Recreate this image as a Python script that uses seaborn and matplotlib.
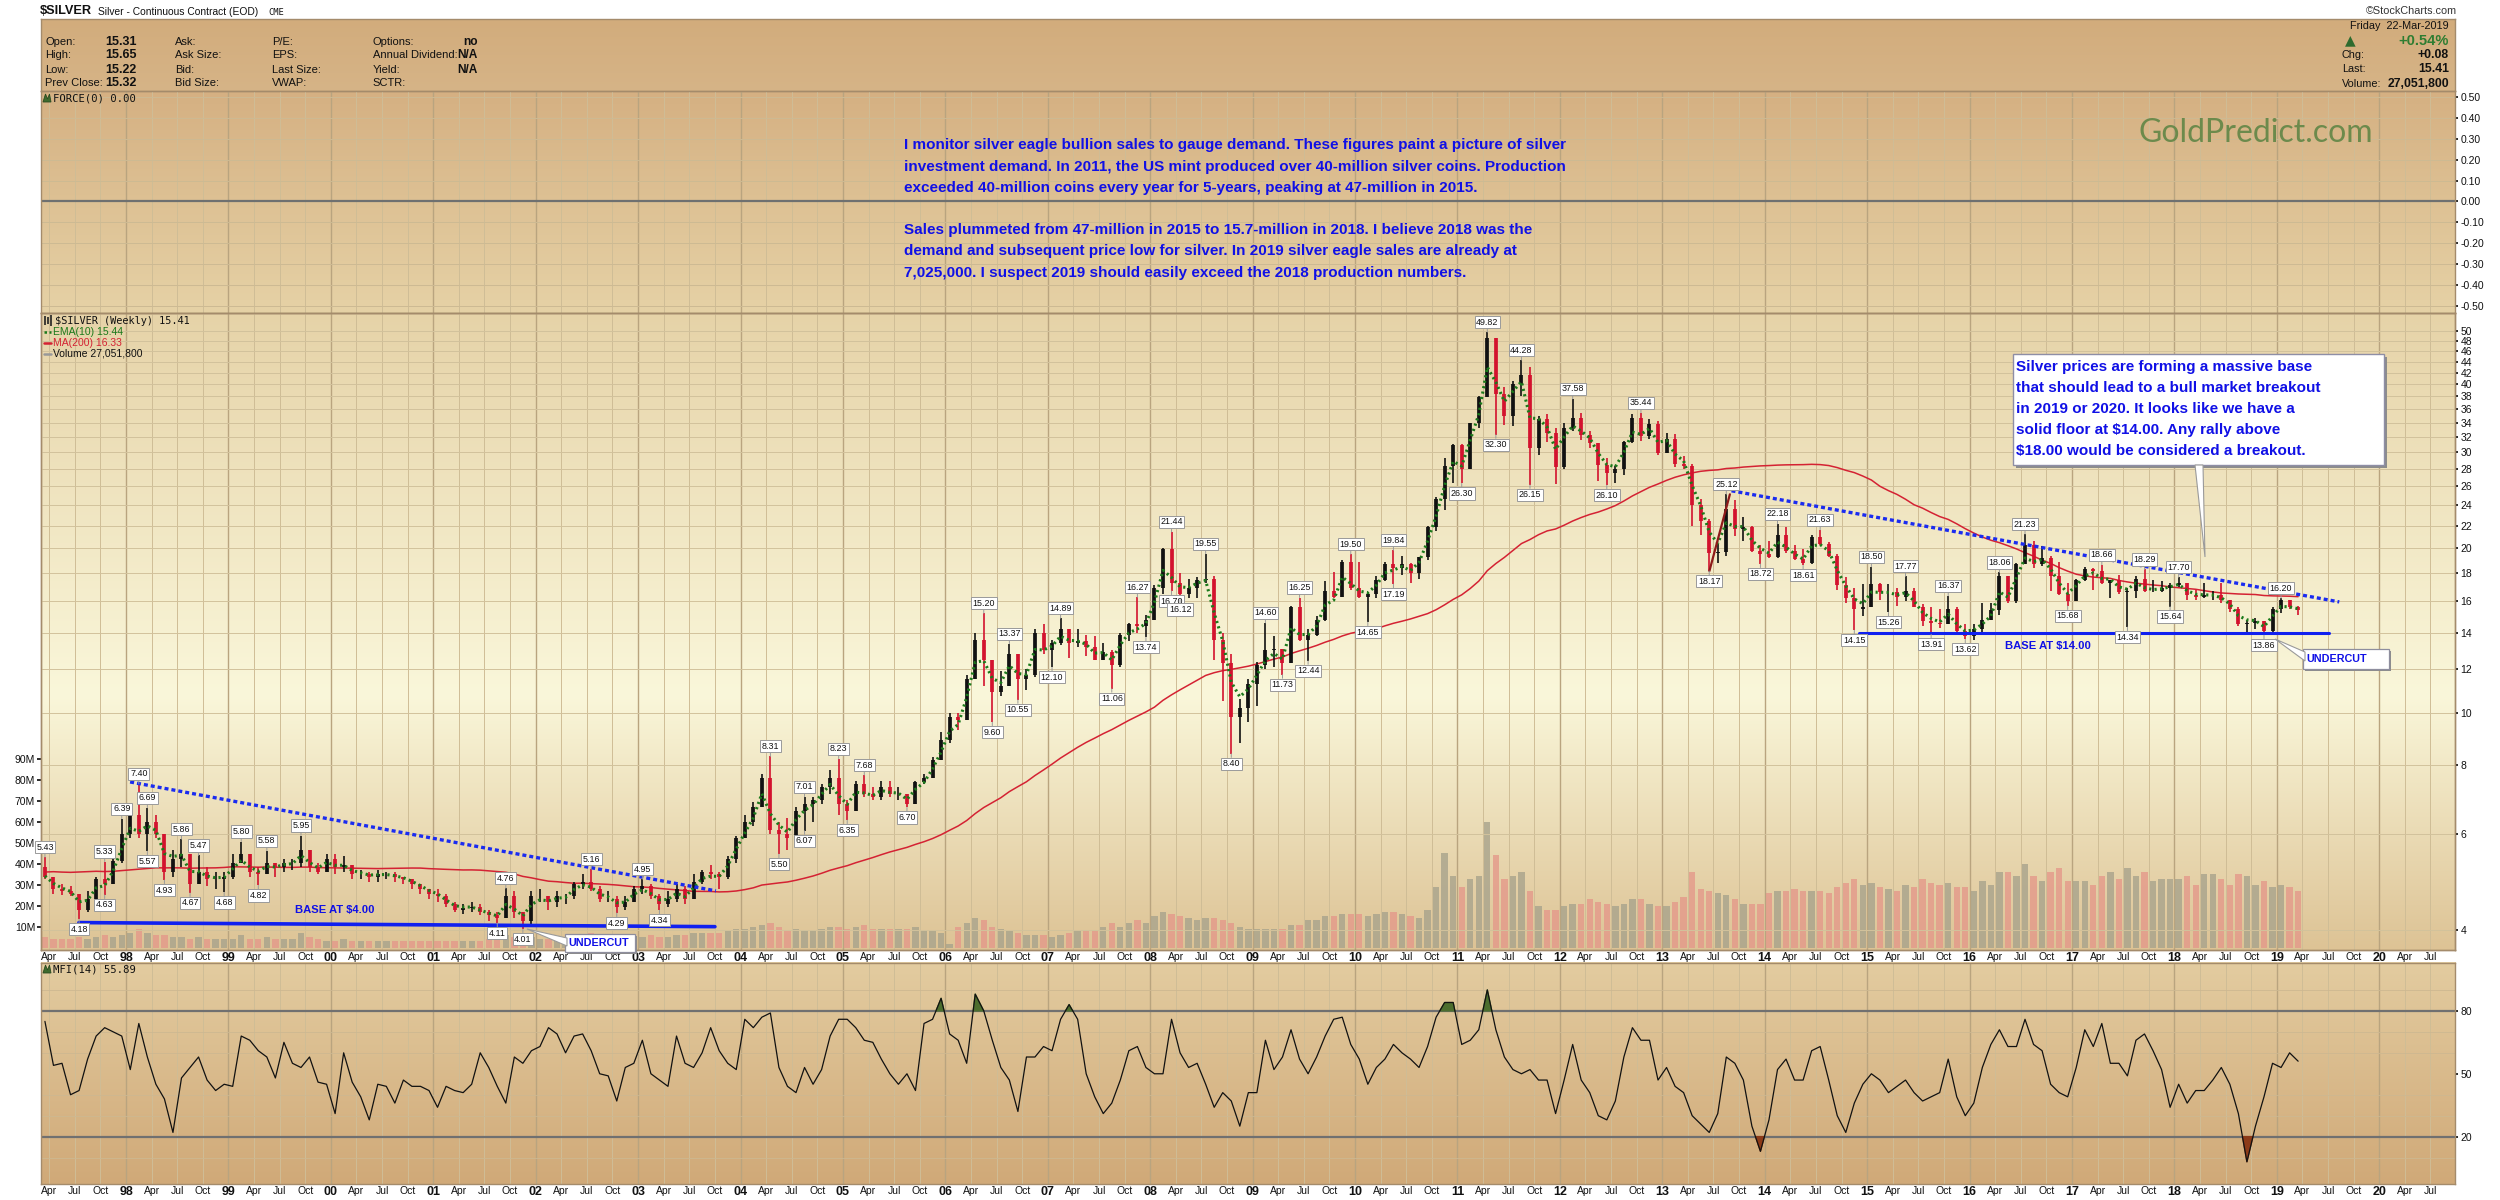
import numpy as np
import pandas as pd
import matplotlib
matplotlib.use('Agg')
import matplotlib.pyplot as plt
import matplotlib.colors as mcolors
from matplotlib import font_manager
from matplotlib.patches import Rectangle, Polygon
from matplotlib.ticker import NullLocator
import seaborn as sns

# ---- data, one value per month (Mar-1997 .. Mar-2019)
first_month = '1997-03'

close = [
    5.00, 4.75, 4.70, 4.65, 4.35, 4.55, 4.95, 4.85, 5.35, 6.00,
    6.50, 6.00, 6.30, 6.00, 5.10, 5.40, 5.50, 4.85, 5.10, 4.95, 4.95, 5.00,
    5.30, 5.50, 5.10, 5.05, 5.30, 5.20, 5.30, 5.30, 5.60, 5.20, 5.10, 5.40,
    5.20, 5.25, 5.05, 5.05, 5.00, 5.05, 5.05, 5.00, 4.95, 4.85, 4.75, 4.65,
    4.60, 4.45, 4.35, 4.38, 4.40, 4.30, 4.25, 4.20, 4.60, 4.30, 4.15, 4.60,
    4.60, 4.50, 4.60, 4.60, 4.85, 4.90, 4.75, 4.55, 4.55, 4.40, 4.50, 4.75,
    4.80, 4.60, 4.45, 4.55, 4.75, 4.55, 4.90, 5.10, 5.05, 5.00, 5.40, 5.90,
    6.30, 6.70, 7.60, 6.10, 6.00, 5.90, 6.60, 6.80, 6.90, 7.30, 7.60, 6.80,
    6.60, 7.40, 7.10, 7.00, 7.30, 7.10, 7.10, 6.80, 7.45, 7.60, 8.20, 8.90,
    9.80, 9.70, 11.50, 13.60, 12.50, 10.90, 11.20, 12.80, 11.50, 11.70, 14.00, 13.00,
    13.40, 14.20, 13.40, 13.50, 13.20, 12.50, 12.90, 12.20, 13.90, 14.50, 14.40, 14.80,
    16.90, 19.90, 17.30, 16.50, 16.90, 17.50, 17.60, 13.60, 12.30, 9.80, 10.20, 11.30,
    12.20, 13.00, 13.10, 12.30, 15.60, 13.60, 13.90, 14.80, 16.70, 16.30, 18.90, 16.90,
    16.30, 16.50, 17.50, 18.70, 18.40, 18.70, 18.00, 19.30, 21.90, 24.60, 28.30, 30.90,
    27.90, 34.00, 37.80, 48.60, 38.40, 34.90, 40.00, 41.60, 30.50, 34.50, 32.50, 28.20,
    33.20, 34.60, 32.30, 31.20, 28.40, 27.50, 28.00, 31.30, 34.60, 32.10, 33.80, 29.90,
    31.70, 28.50, 28.30, 24.00, 22.40, 19.60, 19.70, 23.60, 21.70, 21.90, 19.80, 19.50,
    19.30, 21.20, 19.80, 19.10, 18.80, 21.00, 20.40, 19.40, 17.10, 16.20, 15.50, 15.60,
    17.20, 16.60, 16.60, 16.30, 16.70, 15.60, 14.70, 14.60, 14.50, 15.50, 14.10, 13.80,
    14.20, 14.80, 15.40, 17.80, 16.00, 18.70, 20.30, 18.70, 19.20, 17.80, 16.50, 16.00,
    17.50, 18.30, 18.20, 17.30, 17.50, 16.60, 16.70, 17.60, 16.70, 16.70, 16.90, 17.10,
    17.30, 16.40, 16.30, 16.40, 16.40, 16.10, 15.50, 14.50, 14.60, 14.70, 14.10, 15.50,
    16.10, 15.60, 15.41,
]

high = [
    5.43, 5.00, 4.85, 4.80, 4.60, 4.70, 5.00, 5.33, 5.40, 6.39,
    6.70, 7.40, 6.69, 6.50, 6.00, 5.60, 5.86, 5.50, 5.47, 5.20, 5.10, 5.10,
    5.50, 5.80, 5.50, 5.20, 5.58, 5.30, 5.40, 5.40, 5.95, 5.60, 5.30, 5.50,
    5.50, 5.45, 5.25, 5.15, 5.10, 5.15, 5.10, 5.10, 5.00, 4.95, 4.85, 4.75,
    4.75, 4.65, 4.50, 4.45, 4.50, 4.45, 4.35, 4.30, 4.76, 4.70, 4.30, 4.70,
    4.75, 4.60, 4.70, 4.65, 4.90, 5.05, 5.16, 4.80, 4.70, 4.60, 4.60, 4.80,
    4.95, 4.85, 4.65, 4.70, 4.85, 4.80, 5.05, 5.15, 5.25, 5.10, 5.45, 5.95,
    6.50, 6.85, 7.70, 8.31, 6.30, 6.40, 6.70, 7.01, 7.00, 7.40, 7.85, 8.23,
    6.90, 7.50, 7.68, 7.30, 7.50, 7.50, 7.30, 7.10, 7.50, 7.70, 8.30, 9.20,
    10.00, 10.00, 11.70, 14.00, 15.20, 12.50, 11.90, 13.37, 12.50, 12.00, 14.20, 14.50,
    13.60, 14.89, 14.00, 14.20, 13.90, 13.80, 13.40, 13.00, 14.00, 14.60, 16.27, 15.10,
    17.10, 20.00, 21.44, 18.00, 17.60, 17.70, 19.55, 17.80, 14.00, 12.80, 10.60, 11.50,
    12.40, 14.60, 13.80, 13.00, 15.70, 16.25, 14.20, 15.00, 17.40, 18.10, 19.00, 19.50,
    18.90, 16.60, 17.80, 18.90, 19.84, 19.40, 18.80, 19.30, 22.00, 24.80, 29.30, 31.00,
    31.10, 34.00, 38.00, 49.82, 48.60, 39.50, 40.50, 44.28, 43.00, 35.00, 35.20, 33.20,
    33.90, 37.58, 35.40, 32.80, 31.20, 29.30, 28.30, 31.40, 35.20, 35.44, 34.50, 34.30,
    32.50, 32.40, 29.50, 28.50, 24.60, 22.60, 20.40, 25.12, 24.50, 22.80, 22.00, 20.30,
    20.60, 22.18, 21.90, 20.30, 19.90, 21.20, 21.63, 20.50, 19.50, 17.70, 16.90, 17.20,
    18.50, 17.30, 17.20, 16.90, 17.77, 16.90, 15.80, 15.60, 15.50, 16.37, 15.60, 14.50,
    14.50, 15.90, 15.90, 18.06, 17.60, 18.80, 21.23, 20.60, 20.20, 19.40, 18.90, 17.30,
    17.60, 18.50, 18.40, 18.66, 17.40, 17.90, 16.90, 17.80, 18.29, 17.50, 17.40, 17.30,
    17.70, 17.30, 16.80, 17.30, 16.70, 17.30, 16.00, 15.60, 14.80, 14.90, 14.70, 15.60,
    16.20, 16.10, 15.65,
]

low = [
    4.95, 4.65, 4.62, 4.60, 4.18, 4.30, 4.50, 4.63, 4.85, 5.30,
    5.90, 5.90, 5.57, 5.90, 4.93, 5.00, 5.20, 4.67, 4.90, 4.80, 4.75, 4.68,
    4.95, 5.30, 5.00, 4.82, 5.10, 5.00, 5.10, 5.15, 5.20, 5.10, 5.05, 5.10,
    5.05, 5.10, 4.95, 4.95, 4.90, 4.90, 4.95, 4.90, 4.85, 4.75, 4.65, 4.55,
    4.50, 4.40, 4.30, 4.28, 4.30, 4.25, 4.15, 4.11, 4.20, 4.20, 4.01, 4.10,
    4.50, 4.35, 4.40, 4.45, 4.55, 4.75, 4.70, 4.50, 4.50, 4.29, 4.35, 4.50,
    4.65, 4.55, 4.34, 4.40, 4.50, 4.45, 4.55, 4.85, 4.95, 4.75, 4.95, 5.30,
    5.90, 6.20, 6.70, 6.00, 5.50, 5.60, 5.90, 6.07, 6.30, 6.80, 7.10, 6.50,
    6.35, 6.60, 7.00, 6.90, 6.90, 7.00, 6.90, 6.70, 6.80, 7.40, 7.60, 8.20,
    8.80, 9.30, 9.70, 11.50, 11.20, 9.60, 10.70, 11.60, 10.55, 11.00, 11.60, 12.80,
    12.10, 13.30, 12.60, 13.20, 12.70, 12.50, 12.50, 11.06, 12.10, 13.50, 14.00, 13.74,
    14.80, 16.50, 16.70, 16.12, 16.20, 16.20, 17.30, 12.50, 10.50, 8.40, 8.80, 9.60,
    10.30, 12.00, 12.10, 11.73, 12.30, 13.50, 12.44, 13.80, 14.70, 16.20, 16.30, 16.80,
    16.20, 14.65, 16.20, 17.40, 17.19, 17.90, 17.30, 17.60, 19.00, 21.50, 23.50, 26.40,
    26.30, 27.90, 33.20, 37.80, 32.30, 33.70, 33.50, 38.00, 26.15, 29.70, 31.30, 26.20,
    28.00, 32.80, 31.60, 30.50, 26.60, 26.10, 26.30, 27.20, 31.20, 31.50, 31.70, 29.60,
    29.90, 28.20, 28.00, 22.00, 21.20, 18.17, 18.80, 19.40, 21.10, 20.60, 19.70, 18.72,
    19.20, 19.20, 19.60, 19.00, 18.61, 18.70, 20.30, 19.30, 16.80, 15.90, 14.15, 15.00,
    15.60, 16.10, 15.26, 15.70, 16.00, 15.60, 14.40, 13.91, 14.30, 14.50, 13.90, 13.62,
    13.60, 13.90, 14.90, 15.10, 15.90, 15.90, 18.70, 18.40, 18.60, 16.70, 16.40, 15.68,
    16.10, 17.40, 16.80, 17.20, 16.20, 16.50, 14.34, 16.20, 16.60, 16.60, 16.60, 15.64,
    17.00, 16.10, 16.10, 16.20, 16.10, 15.90, 15.30, 14.40, 13.90, 14.20, 13.86, 14.00,
    15.20, 15.50, 15.10,
]

# weekly volume, typical level per month (millions)
volume = [
    5, 4, 4, 4, 5, 4, 5, 6, 5, 6,
    7, 9, 7, 6, 6, 5, 5, 4, 5, 4, 4, 4,
    4, 6, 4, 4, 5, 4, 4, 4, 7, 5, 4, 3,
    3, 4, 3, 3, 3, 3, 3, 3, 3, 3, 3, 3,
    3, 3, 3, 3, 3, 3, 4, 4, 6, 5, 5, 5,
    4, 4, 4, 5, 5, 6, 7, 5, 4, 4, 4, 5,
    5, 6, 5, 5, 6, 6, 7, 7, 7, 7, 8, 9,
    9, 10, 11, 12, 10, 8, 9, 8, 8, 9, 10, 10,
    9, 10, 11, 9, 9, 9, 9, 9, 10, 8, 8, 7,
    2, 10, 12, 14, 13, 10, 9, 8, 7, 6, 6, 6,
    5, 6, 7, 8, 8, 8, 10, 12, 10, 12, 13, 12,
    15, 17, 16, 15, 14, 13, 14, 14, 13, 12, 10, 9,
    9, 9, 9, 9, 11, 11, 13, 13, 15, 15, 16, 16,
    16, 15, 16, 17, 17, 16, 15, 14, 18, 29, 45, 34,
    29, 33, 34, 60, 44, 33, 34, 36, 27, 20, 18, 18,
    20, 21, 21, 23, 22, 21, 20, 21, 23, 23, 21, 20,
    20, 22, 24, 36, 28, 27, 26, 25, 23, 21, 21, 21,
    26, 27, 27, 28, 27, 27, 27, 26, 29, 31, 33, 30,
    31, 29, 28, 27, 30, 29, 33, 31, 30, 31, 29, 29,
    27, 32, 30, 36, 36, 34, 40, 34, 32, 36, 38, 32,
    32, 32, 30, 34, 36, 33, 38, 34, 36, 32, 33, 33,
    33, 34, 30, 35, 35, 33, 30, 35, 34, 30, 32, 29,
    30, 29, 27,
]

mfi = [
    75, 54, 55, 40, 42, 57, 68, 72, 70, 68,
    52, 74, 58, 45, 38, 22, 48, 53, 58, 47, 42, 45,
    44, 68, 66, 61, 58, 48, 65, 55, 53, 58, 46, 45,
    31, 60, 46, 39, 28, 45, 44, 36, 47, 44, 44, 42,
    34, 44, 42, 41, 45, 60, 53, 44, 36, 58, 55, 61,
    63, 72, 69, 60, 68, 69, 61, 50, 49, 37, 53, 55,
    66, 50, 47, 44, 68, 55, 53, 60, 72, 61, 55, 52,
    76, 72, 77, 79, 53, 44, 41, 53, 45, 52, 68, 76,
    76, 72, 66, 65, 57, 50, 45, 50, 42, 74, 76, 86,
    69, 66, 55, 88, 80, 66, 53, 47, 32, 58, 58, 63,
    61, 76, 83, 76, 50, 39, 31, 36, 47, 61, 63, 53,
    50, 50, 76, 60, 53, 55, 45, 34, 41, 37, 25, 41,
    41, 66, 52, 58, 71, 57, 50, 58, 68, 76, 77, 64,
    57, 45, 53, 57, 64, 60, 57, 53, 63, 77, 84, 84,
    64, 66, 71, 90, 71, 58, 52, 50, 52, 47, 47, 31,
    47, 64, 47, 41, 30, 28, 37, 58, 72, 66, 66, 47,
    53, 44, 41, 30, 26, 22, 31, 58, 55, 47, 25, 13,
    28, 52, 57, 47, 47, 61, 63, 47, 30, 22, 36, 45,
    50, 47, 41, 44, 47, 41, 37, 39, 41, 57, 39, 30,
    36, 53, 64, 71, 63, 63, 76, 64, 61, 45, 41, 39,
    53, 71, 63, 74, 55, 55, 49, 66, 69, 61, 52, 34,
    45, 36, 42, 42, 47, 53, 45, 31, 8, 25, 39, 55,
    53, 60, 56,
]

# closes before the chart window (May-1993 .. Feb-1997), only feed the 200-week MA
pre_close = [
    4.5, 4.4, 5.1, 4.9, 4.0, 4.3, 4.5, 5.1,
    5.1, 5.3, 5.7, 5.4, 5.5, 5.4, 5.2, 5.3, 5.6, 5.2, 4.9, 4.9,
    4.8, 4.6, 4.6, 5.6, 5.3, 5.2, 5.1, 5.4, 5.5, 5.3, 5.3, 5.2,
    5.6, 5.5, 5.4, 5.4, 5.3, 5.1, 5.1, 5.2, 4.9, 4.8, 4.8, 4.8,
    4.8, 5.2,
]

# swing high / low tags on the chart
tag_month = [
    '1997-03', '1997-07', '1997-10', '1997-10', '1997-12',
    '1998-02', '1998-03', '1998-03', '1998-05', '1998-07', '1998-08', '1998-09', '1998-12',
    '1999-02', '1999-04', '1999-05', '1999-09',
    '2001-08', '2001-09', '2001-11', '2002-07', '2002-10', '2003-01', '2003-03',
    '2004-04', '2004-05', '2004-08', '2004-08', '2004-12',
    '2005-01', '2005-03', '2005-08',
    '2006-05', '2006-06', '2006-08', '2006-09',
    '2007-01', '2007-02', '2007-08', '2007-11', '2007-12',
    '2008-03', '2008-03', '2008-04', '2008-07', '2008-10',
    '2009-02', '2009-04', '2009-06', '2009-07', '2009-12',
    '2010-02', '2010-05', '2010-05',
    '2011-01', '2011-04', '2011-05', '2011-08', '2011-09',
    '2012-02', '2012-06', '2012-10',
    '2013-06', '2013-08', '2013-12',
    '2014-02', '2014-05', '2014-07', '2014-11',
    '2015-01', '2015-03', '2015-05', '2015-08', '2015-10', '2015-12',
    '2016-04', '2016-07', '2016-12',
    '2017-04', '2017-07', '2017-09', '2017-12',
    '2018-01', '2018-11', '2019-01',
]
tag_value = [
    5.43, 4.18, 5.33, 4.63, 6.39,
    7.40, 6.69, 5.57, 4.93, 5.86, 4.67, 5.47, 4.68,
    5.80, 4.82, 5.58, 5.95,
    4.11, 4.76, 4.01, 5.16, 4.29, 4.95, 4.34,
    8.31, 5.50, 7.01, 6.07, 8.23,
    6.35, 7.68, 6.70,
    15.20, 9.60, 13.37, 10.55,
    12.10, 14.89, 11.06, 16.27, 13.74,
    21.44, 16.70, 16.12, 19.55, 8.40,
    14.60, 11.73, 16.25, 12.44, 19.50,
    14.65, 19.84, 17.19,
    26.30, 49.82, 32.30, 44.28, 26.15,
    37.58, 26.10, 35.44,
    18.17, 25.12, 18.72,
    22.18, 18.61, 21.63, 14.15,
    18.50, 15.26, 17.77, 13.91, 16.37, 13.62,
    18.06, 21.23, 15.68,
    18.66, 14.34, 18.29, 15.64,
    17.70, 13.86, 16.20,
]
tag_side = [
    'H', 'L', 'H', 'L', 'H',
    'H', 'H', 'L', 'L', 'H', 'L', 'H', 'L',
    'H', 'L', 'H', 'H',
    'L', 'H', 'L', 'H', 'L', 'H', 'L',
    'H', 'L', 'H', 'L', 'H',
    'L', 'H', 'L',
    'H', 'L', 'H', 'L',
    'L', 'H', 'L', 'H', 'L',
    'H', 'L', 'L', 'H', 'L',
    'H', 'L', 'H', 'L', 'H',
    'L', 'H', 'L',
    'L', 'H', 'L', 'H', 'L',
    'H', 'L', 'H',
    'L', 'H', 'L',
    'H', 'L', 'H', 'L',
    'H', 'L', 'H', 'L', 'H', 'L',
    'H', 'H', 'L',
    'H', 'L', 'H', 'L',
    'H', 'L', 'H',
]

price_ticks = [4, 6, 8, 10, 12, 14, 16, 18, 20, 22, 24, 26, 28, 30, 32, 34, 36, 38, 40, 42, 44, 46, 48, 50]
vol_ticks = [10, 20, 30, 40, 50, 60, 70, 80, 90]
force_ticks = [-0.5, -0.4, -0.3, -0.2, -0.1, 0.0, 0.1, 0.2, 0.3, 0.4, 0.5]
mfi_ticks = [20, 50, 80]

comment_1 = [
    'I monitor silver eagle bullion sales to gauge demand. These figures paint a picture of silver',
    'investment demand. In 2011, the US mint produced over 40-million silver coins. Production',
    'exceeded 40-million coins every year for 5-years, peaking at 47-million in 2015.',
    'Sales plummeted from 47-million in 2015 to 15.7-million in 2018. I believe 2018 was the',
    'demand and subsequent price low for silver. In 2019 silver eagle sales are already at',
    '7,025,000. I suspect 2019 should easily exceed the 2018 production numbers.',
]
comment_2 = [
    'Silver prices are forming a massive base',
    'that should lead to a bull market breakout',
    'in 2019 or 2020. It looks like we have a',
    'solid floor at $14.00. Any rally above',
    '$18.00 would be considered a breakout.',
]

# ---- derived series
months = pd.period_range(first_month, periods=len(close), freq='M')
t = np.asarray(months.year + (months.month - 0.5) / 12.0)
close_a = np.array(close)
open_a = np.array([pre_close[-1]] + close[:-1])
full = pd.Series(pre_close + close)
ema10 = full.ewm(alpha=0.58, adjust=False).mean().to_numpy()[len(pre_close):]
ma200 = full.rolling(46).mean().to_numpy()[len(pre_close):]
up = close_a >= open_a
candle_col = np.where(up, '#111111', '#D3122E')
vol_col = np.where(up, '#A8A38C', '#E4998A')

tag_p = pd.PeriodIndex(tag_month, freq='M')
tag_t = np.asarray(tag_p.year + (tag_p.month - 0.5) / 12.0)

# ---- fonts
sns.set_theme(style='white')
plt.rcParams['font.family'] = ['Liberation Sans', 'DejaVu Sans']
installed = {f.name for f in font_manager.fontManager.ttflist}
if 'Liberation Sans Narrow' in installed:
    NARROW = ['Liberation Sans Narrow', 'Liberation Sans']
    NS = 1.0
else:
    NARROW = ['Liberation Sans', 'DejaVu Sans']
    NS = 0.84
MONO = ['DejaVu Sans Mono']

W, H = 2500, 1200
X0, X1 = 40.7, 2455.0
XMIN, XMAX = 1997.167, 2020.74
BLUE = '#1010E6'
EDGE = '#A48B6B'


def rect(y_top, y_bot):
    return [X0 / W, 1 - y_bot / H, (X1 - X0) / W, (y_bot - y_top) / H]


fig = plt.figure(figsize=(25, 12), dpi=100, facecolor='white')

ax_bg = fig.add_axes([0, 0, 1, 1], zorder=-10)


def gradient(y_top, y_bot, stops):
    pos = [s[0] for s in stops]
    cols = np.array([mcolors.to_rgb(s[1]) for s in stops])
    yy = np.linspace(0, 1, 256)
    img = np.stack([np.interp(yy, pos, cols[:, k]) for k in range(3)], axis=-1)[:, None, :]
    ax_bg.imshow(img, extent=[X0, X1, y_bot, y_top], aspect='auto', interpolation='bilinear')


gradient(19, 91, [(0, '#D2AC7C'), (1, '#D6B487')])
gradient(91, 313, [(0, '#D5B082'), (1, '#E6D2A6')])
gradient(313, 950, [(0, '#E6D3A8'), (0.6, '#FAF7DA'), (1, '#DDC395')])
gradient(962.7, 1184, [(0, '#E3CCA0'), (1, '#D0A978')])
ax_bg.set_xlim(0, W)
ax_bg.set_ylim(H, 0)
ax_bg.axis('off')

ax_h = fig.add_axes(rect(19, 91))
ax_f = fig.add_axes(rect(91, 313))
ax_p = fig.add_axes(rect(313, 950))
ax_v = ax_p.twinx()
ax_m = fig.add_axes(rect(962.7, 1184))

for ax in [ax_h, ax_f, ax_p, ax_v, ax_m]:
    ax.patch.set_visible(False)
    for sp in ax.spines.values():
        sp.set_color(EDGE)
        sp.set_linewidth(1.0)
ax_p.set_zorder(3)
ax_v.set_zorder(2)

ax_h.set_xticks([])
ax_h.set_yticks([])

quarters = np.arange(1997.25, 2020.74, 0.25)
tick_lab = []
for q in quarters:
    yr = int(np.floor(q + 1e-6))
    k = int(round((q - yr) * 4))
    tick_lab.append(['%02d' % (yr % 100), 'Apr', 'Jul', 'Oct'][k])


def vgrid(ax):
    for q in quarters:
        is_year = abs(q - round(q)) < 1e-6
        ax.axvline(q, color='#B9A47F' if is_year else '#CFBD96',
                   lw=1.0 if is_year else 0.7, zorder=0)


def xlabels(ax):
    ax.set_xticks(quarters)
    ax.set_xticklabels(tick_lab)
    ax.tick_params(axis='x', length=0, pad=1.5, labelsize=7.5, colors='#111111')
    for lab in ax.get_xticklabels():
        if lab.get_text()[0].isdigit():
            lab.set_fontweight('bold')
            lab.set_fontsize(9)


# ---- FORCE panel
ax_f.set_xlim(XMIN, XMAX)
ax_f.set_ylim(-0.535, 0.53)
vgrid(ax_f)
for v in force_ticks:
    ax_f.axhline(v, color='#CDBA93', lw=0.7, zorder=0)
ax_f.axhline(0, color='#6E7070', lw=1.6, zorder=1)
ax_f.set_xticks([])
ax_f.yaxis.tick_right()
ax_f.set_yticks(force_ticks)
ax_f.set_yticklabels(['%.2f' % v for v in force_ticks])
ax_f.tick_params(axis='y', length=2, pad=2, labelsize=7.5, colors='#111111')

# ---- price panel
ax_p.set_yscale('log')
ax_p.set_xlim(XMIN, XMAX)
ax_p.set_ylim(3.67, 54.0)
ax_v.set_ylim(-1.1, 302.8)
vgrid(ax_v)
for v in price_ticks:
    ax_p.axhline(v, color='#D2C29C', lw=0.7, zorder=0)

ax_v.bar(t, volume, width=0.062, color=vol_col, alpha=0.8, zorder=2, linewidth=0)

ax_p.vlines(t, low, high, colors=candle_col, lw=1.2, zorder=4)
ax_p.vlines(t, open_a, close_a, colors=candle_col, lw=2.7, zorder=4)
sns.lineplot(x=t, y=ma200, ax=ax_p, color='#D42233', lw=1.1, estimator=None, sort=False, zorder=3)
sns.lineplot(x=t, y=ema10, ax=ax_p, color='#1B7A1B', lw=2.2, linestyle=(0, (0.7, 1.1)),
             estimator=None, sort=False, zorder=5)

ax_p.yaxis.tick_right()
ax_p.set_yticks(price_ticks)
ax_p.set_yticklabels([str(v) for v in price_ticks])
ax_p.yaxis.set_minor_locator(NullLocator())
ax_p.tick_params(axis='y', length=2, pad=2, labelsize=7.5, colors='#111111')
ax_p.set_ylabel('')
xlabels(ax_p)

ax_v.yaxis.tick_left()
ax_v.set_yticks(vol_ticks)
ax_v.set_yticklabels(['%dM' % v for v in vol_ticks])
ax_v.tick_params(axis='y', length=3, pad=1, labelsize=7.5, colors='#111111')

# trend lines
ax_p.plot([1998.04, 2003.76], [7.46, 4.71], color='#1A2BF0', lw=2.4, ls=(0, (1.2, 0.9)), zorder=6)
ax_p.plot([1997.54, 2003.75], [4.12, 4.05], color='#1020F0', lw=2.6, zorder=6)
ax_p.plot([2013.676, 2019.61], [25.5, 15.95], color='#1A2BF0', lw=2.4, ls=(0, (1.2, 0.9)), zorder=6)
ax_p.plot([2014.92, 2019.51], [14.0, 14.0], color='#1020F0', lw=2.2, zorder=6)
ax_p.plot([2013.46, 2013.66], [18.17, 25.12], color='#8E1A1A', lw=1.6, zorder=6)
ax_p.text(2000.04, 4.34, 'BASE AT $4.00', color=BLUE, fontsize=9.6 * NS, fontweight='bold',
          family=NARROW, ha='center', va='center', zorder=7)
ax_p.text(2016.77, 13.26, 'BASE AT $14.00', color=BLUE, fontsize=9.6 * NS, fontweight='bold',
          family=NARROW, ha='center', va='center', zorder=7)

# swing tags
for tx, tv, side in zip(tag_t, tag_value, tag_side):
    off = 10 if side == 'H' else -10
    ax_p.annotate('%.2f' % tv, xy=(tx, tv), xytext=(0, off), textcoords='offset pixels',
                  ha='center', va='center', fontsize=6.4, color='#111111', zorder=8,
                  annotation_clip=False,
                  bbox=dict(boxstyle='square,pad=0.18', fc='white', ec='#9A9A9A', lw=0.7),
                  arrowprops=dict(arrowstyle='-', color='#9A9A9A', lw=0.7, shrinkA=0, shrinkB=0))

# ---- MFI panel
ax_m.set_xlim(XMIN, XMAX)
ax_m.set_ylim(-2.6, 103)
vgrid(ax_m)
for v in [10, 30, 40, 60, 70, 90]:
    ax_m.axhline(v, color='#CDB891', lw=0.6, zorder=0)
ax_m.axhline(80, color='#707070', lw=1.6, zorder=1)
ax_m.axhline(20, color='#707070', lw=1.6, zorder=1)
mfi_a = np.array(mfi, dtype=float)
ax_m.fill_between(t, mfi_a, 80, where=mfi_a > 80, interpolate=True, color='#4C6E2E', zorder=2)
ax_m.fill_between(t, mfi_a, 20, where=mfi_a < 20, interpolate=True, color='#8C3A18', zorder=2)
sns.lineplot(x=t, y=mfi_a, ax=ax_m, color='#111111', lw=0.9, estimator=None, sort=False, zorder=3)
ax_m.yaxis.tick_right()
ax_m.set_yticks(mfi_ticks)
ax_m.set_yticklabels([str(v) for v in mfi_ticks])
ax_m.tick_params(axis='y', length=2, pad=2, labelsize=7.5, colors='#111111')
ax_m.set_ylabel('')
xlabels(ax_m)

# ---- overlay for header, legends, notes (pixel coordinates)
ax_o = fig.add_axes([0, 0, 1, 1], zorder=30)
ax_o.set_xlim(0, W)
ax_o.set_ylim(H, 0)
ax_o.axis('off')


def txt(x, y, s, **kw):
    kw.setdefault('va', 'center')
    kw.setdefault('fontsize', 8)
    kw.setdefault('color', '#111111')
    ax_o.text(x, y, s, **kw)


def icon(x, y):
    ax_o.add_patch(Polygon([(x, y + 4), (x + 2.5, y - 4), (x + 4.5, y + 1), (x + 6.5, y - 4),
                            (x + 8, y + 4)], closed=True, fc='#3E6B2E', ec='#2A4A20', lw=0.6))


txt(40, 11.5, '$SILVER', fontsize=9.2, fontweight='bold')
txt(98, 12, 'Silver - Continuous Contract (EOD)', fontsize=7.4)
txt(268, 12.5, 'CME', fontsize=6.3, family=MONO)
txt(2457, 11.5, '\u00a9StockCharts.com', fontsize=7.8, ha='right', color='#333333', family=NARROW)

rows_y = [41.7, 55.3, 69.8, 83.5]
for y, a, av, b, c, d, dv in zip(rows_y,
                                 ['Open:', 'High:', 'Low:', 'Prev Close:'],
                                 ['15.31', '15.65', '15.22', '15.32'],
                                 ['Ask:', 'Ask Size:', 'Bid:', 'Bid Size:'],
                                 ['P/E:', 'EPS:', 'Last Size:', 'VWAP:'],
                                 ['Options:', 'Annual Dividend:', 'Yield:', 'SCTR:'],
                                 ['no', 'N/A', 'N/A', '']):
    txt(45, y, a)
    txt(137, y, av, fontweight='bold', fontsize=9, ha='right')
    txt(175, y, b)
    txt(271.7, y, c)
    txt(372.7, y, d)
    txt(478, y, dv, fontweight='bold', fontsize=8.6, ha='right')

txt(2449, 26, 'Friday  22-Mar-2019', ha='right', fontsize=7.8)
txt(2449, 40.7, '+0.54%', ha='right', fontweight='bold', fontsize=10.5, color='#2E7D32')
txt(2350, 40.7, '\u25b2', ha='center', fontsize=10, color='#2E6B2E', family=['DejaVu Sans'])
for y, a, av in zip([55, 69.3, 83.7], ['Chg:', 'Last:', 'Volume:'], ['+0.08', '15.41', '27,051,800']):
    txt(2342, y, a, fontsize=7.8)
    txt(2449, y, av, ha='right', fontweight='bold', fontsize=8.8)

icon(43, 98)
txt(53, 98.5, 'FORCE(0) 0.00', fontsize=7.6, family=MONO)
txt(2138, 133, 'GoldPredict.com', fontsize=23, color='#6C8A4C', family=['Lato', 'DejaVu Sans'])

txt(55, 320.7, '$SILVER (Weekly) 15.41', fontsize=7.4, family=MONO)
txt(53, 331.7, 'EMA(10) 15.44', fontsize=7.5, color='#1B7A1B')
txt(53, 342.7, 'MA(200) 16.33', fontsize=7.5, color='#D42233')
txt(53, 353.5, 'Volume 27,051,800', fontsize=7.5)
ax_o.plot([44, 51], [331.7, 331.7], color='#1B7A1B', lw=1.8, ls=(0, (1, 1)))
ax_o.plot([44, 51], [342.7, 342.7], color='#D42233', lw=1.8)
ax_o.plot([44, 51], [353.5, 353.5], color='#999999', lw=1.8)
ax_o.vlines([45, 48, 51], [316, 317, 315], [325, 324, 326], colors='#222222', lw=1.2)
icon(43, 969)
txt(53, 969, 'MFI(14) 55.89', fontsize=7.6, family=MONO)

for i, line in enumerate(comment_1):
    y = [145, 166.7, 188, 230, 251.5, 273][i]
    txt(904.5, y, line, fontsize=11, fontweight='bold', color=BLUE)

# right hand note with pointer
ax_o.add_patch(Rectangle((2015.5, 357), 371.5, 111, fc='#8C8C8C', ec='none', zorder=1))
ax_o.add_patch(Rectangle((2012.5, 354), 371.5, 111, fc='white', ec='#8E8EA6', lw=1.0, zorder=2))
ax_o.add_patch(Polygon([(2195, 465), (2203, 465), (2205, 557)], closed=True,
                       fc='white', ec='#9A9A9A', lw=0.8, zorder=2))
for i, line in enumerate(comment_2):
    txt(2016, 366.5 + i * 21.2, line, fontsize=11, fontweight='bold', color=BLUE, zorder=3)

# undercut call-outs
for (bx, by, bw, bh), tail in [((565, 934, 70, 18), [(527, 929), (567, 938), (567, 946)]),
                               ((2303, 649, 86, 20), [(2275, 639), (2305, 652), (2305, 661)])]:
    ax_o.add_patch(Rectangle((bx + 2, by + 2), bw, bh, fc='#8C8C8C', ec='none', zorder=1))
    ax_o.add_patch(Rectangle((bx, by), bw, bh, fc='white', ec='#8E8E9E', lw=0.9, zorder=2))
    ax_o.add_patch(Polygon(tail, closed=True, fc='white', ec='#9A9A9A', lw=0.8, zorder=2))
    txt(bx + 3, by + bh / 2, 'UNDERCUT', fontsize=9.2 * NS, fontweight='bold', color=BLUE,
        family=NARROW, zorder=3)

fig.savefig('out.png', dpi=100, facecolor='white')
